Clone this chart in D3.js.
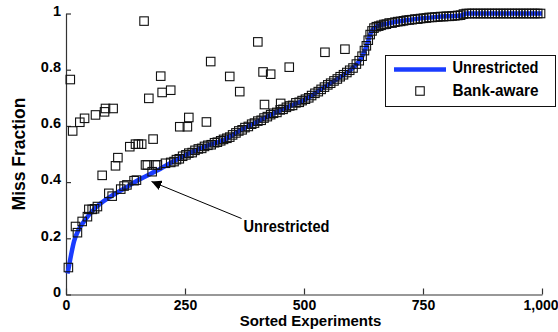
<!DOCTYPE html>
<html>
<head>
<meta charset="utf-8">
<script src="https://cdn.jsdelivr.net/npm/d3@7"></script>
<style>
  html, body { margin: 0; padding: 0; background: #fff; }
  svg text { font-family: "Liberation Sans", Arial, sans-serif; font-weight: bold; fill: #000; }
</style>
</head>
<body>
<div id="chart"></div>
<script>
// Unrestricted (sorted miss fraction per experiment)
const unrX = [3, 5, 10, 17, 25, 40, 60, 95, 125, 155, 190, 227, 262, 297, 332, 367, 400, 437, 470, 507,
  540, 577, 605, 622, 633, 640, 650, 675, 724, 780, 830, 842, 1000];
const unrY = [0.075, 0.09, 0.135, 0.19, 0.225, 0.265, 0.305, 0.35, 0.38, 0.41, 0.44, 0.475, 0.505, 0.53, 0.55, 0.585, 0.613, 0.645, 0.67, 0.698,
  0.735, 0.775, 0.81, 0.846, 0.893, 0.929, 0.952, 0.964, 0.978, 0.988, 0.993, 1.0, 1.0];

// Bank-aware
const bankX = [5, 20, 24, 34, 45, 48, 55, 60, 66, 90, 97, 115, 122, 128, 143, 148, 181, 209, 220, 227,
  232, 238, 245, 252, 258, 265, 271, 278, 285, 291, 298, 305, 312, 318, 325, 331, 338, 344, 350, 357,
  363, 370, 376, 383, 390, 396, 403, 410, 416, 423, 430, 436, 443, 450, 456, 463, 470, 476, 483, 490,
  496, 503, 510, 516, 523, 530, 536, 543, 550, 556, 563, 570, 576, 583, 590, 596, 603, 610, 616, 622,
  627, 631, 635, 639, 643, 647, 652, 657, 662, 668, 673, 679, 685, 691, 697, 703, 709, 715, 721, 727,
  733, 739, 745, 751, 757, 763, 769, 775, 781, 787, 793, 799, 805, 811, 817, 823, 829, 835, 841, 847,
  853, 859, 865, 871, 877, 883, 889, 895, 901, 907, 913, 919, 925, 931, 937, 943, 949, 955, 961, 967,
  973, 979, 985, 991, 997,
  9, 14, 29, 39, 62, 81, 83, 99, 76, 104, 109, 134, 146, 152, 159, 164, 167, 171, 174, 183,
  188, 192, 199, 202, 220, 239, 255, 258, 295, 304, 344, 365, 403, 414, 417, 430, 451, 469, 544, 586];
const bankY = [0.096, 0.242, 0.22, 0.26, 0.277, 0.303, 0.303, 0.305, 0.313, 0.36, 0.35, 0.375, 0.386, 0.39, 0.405, 0.407, 0.437, 0.467, 0.47, 0.473,
  0.48, 0.483, 0.492, 0.497, 0.503, 0.505, 0.513, 0.518, 0.52, 0.527, 0.531, 0.533, 0.54, 0.542, 0.547, 0.552, 0.556, 0.56, 0.568, 0.575,
  0.582, 0.586, 0.594, 0.598, 0.606, 0.61, 0.617, 0.62, 0.628, 0.633, 0.64, 0.645, 0.648, 0.657, 0.659, 0.666, 0.671, 0.673, 0.682, 0.684,
  0.69, 0.695, 0.70, 0.708, 0.716, 0.722, 0.73, 0.738, 0.746, 0.752, 0.76, 0.767, 0.775, 0.782, 0.79, 0.798, 0.806, 0.82, 0.832, 0.848,
  0.868, 0.885, 0.905, 0.925, 0.938, 0.948, 0.953, 0.955, 0.958, 0.961, 0.962, 0.966, 0.966, 0.969, 0.971, 0.972, 0.974, 0.976, 0.977, 0.978,
  0.98, 0.98, 0.982, 0.983, 0.984, 0.986, 0.986, 0.987, 0.988, 0.989, 0.989, 0.99, 0.99, 0.991, 0.992, 0.993, 0.994, 0.998, 1.0, 1.0,
  1.0, 1.0, 1.0, 1.0, 1.0, 1.0, 1.0, 1.0, 1.0, 1.0, 1.0, 1.0, 1.0, 1.0, 1.0, 1.0, 1.0, 1.0, 1.0, 1.0,
  1.0, 1.0, 1.0, 1.0, 1.0,
  0.765, 0.582, 0.613, 0.627, 0.639, 0.65, 0.662, 0.662, 0.424, 0.458, 0.487, 0.526, 0.535, 0.535, 0.535, 0.973, 0.461, 0.461, 0.698, 0.553,
  0.461, 0.461, 0.777, 0.719, 0.727, 0.597, 0.597, 0.63, 0.614, 0.829, 0.776, 0.722, 0.899, 0.792, 0.676, 0.784, 0.68, 0.809, 0.862, 0.873];

const xTicks = [0, 250, 500, 750, 1000];
const yTicks = [0, 0.2, 0.4, 0.6, 0.8, 1];
const yTickLabels = ["0", "0.2", "0.4", "0.6", "0.8", "1"];

const W = 558, H = 332;
const svg = d3.select("#chart").append("svg")
    .attr("width", W)
    .attr("height", H);

const x = d3.scaleLinear().domain([0, 1000]).range([66, 542]);
const y = d3.scaleLinear().domain([0, 1]).range([294.5, 13.5]);

// axes
const xAxis = d3.axisBottom(x).tickValues(xTicks).tickSizeInner(-6).tickSizeOuter(0).tickPadding(4);
const yAxis = d3.axisLeft(y).tickValues(yTicks).tickFormat((d, i) => yTickLabels[i])
    .tickSizeInner(-5).tickSizeOuter(0).tickPadding(5);

const gx = svg.append("g").attr("transform", `translate(0,${y(0)})`).call(xAxis);
gx.selectAll("text").attr("font-size", 14).attr("dy", "0.8em");
gx.selectAll(".tick").filter((d) => d === 1000).select("text").attr("dx", -1.5);
const gy = svg.append("g").attr("transform", `translate(${x(0)},0)`).call(yAxis);
gy.selectAll("text").attr("font-size", 14.5).attr("dy", "0.12em");
svg.selectAll(".domain, .tick line").attr("stroke", "#333").attr("stroke-width", 1.2);
svg.selectAll(".tick text").attr("font-family", null).style("fill", "#000");

// unrestricted line
const line = d3.line()
    .x((d, i) => x(unrX[i]))
    .y((d, i) => y(unrY[i]))
    .curve(d3.curveMonotoneX);
svg.append("path")
    .attr("d", line(unrX))
    .attr("fill", "none")
    .attr("stroke", "#1a3cff")
    .attr("stroke-width", 4.5);

// bank-aware squares
const S = 8.5;
svg.append("g").selectAll("rect")
    .data(bankX)
    .join("rect")
    .attr("x", (d) => x(d) - S / 2)
    .attr("y", (d, i) => y(bankY[i]) - S / 2)
    .attr("width", S)
    .attr("height", S)
    .attr("fill", "none")
    .attr("stroke", "#111")
    .attr("stroke-width", 1.1);

// axis titles
svg.append("text")
    .attr("x", 310.5).attr("y", 326)
    .attr("text-anchor", "middle")
    .attr("font-size", 15)
    .text("Sorted Experiments");
svg.append("text")
    .attr("transform", "translate(25,154) rotate(-90)")
    .attr("text-anchor", "middle")
    .attr("font-size", 17.5)
    .text("Miss Fraction");

// annotation
svg.append("defs").append("marker")
    .attr("id", "arrow")
    .attr("viewBox", "0 0 10 10")
    .attr("refX", 10).attr("refY", 5)
    .attr("markerWidth", 10).attr("markerHeight", 10)
    .attr("markerUnits", "userSpaceOnUse")
    .attr("orient", "auto")
    .append("path")
    .attr("d", "M0,0 L10,5 L0,10 Z")
    .attr("fill", "#000");
svg.append("line")
    .attr("x1", 241.5).attr("y1", 218.5)
    .attr("x2", 151.5).attr("y2", 181.5)
    .attr("stroke", "#000")
    .attr("stroke-width", 1)
    .attr("marker-end", "url(#arrow)");
svg.append("text")
    .attr("x", 243.5).attr("y", 231.5)
    .attr("font-size", 16)
    .attr("textLength", 86)
    .attr("lengthAdjust", "spacingAndGlyphs")
    .text("Unrestricted");

// legend
const lg = svg.append("g");
lg.append("rect")
    .attr("x", 385.5).attr("y", 55.5)
    .attr("width", 170).attr("height", 51)
    .attr("fill", "#fff")
    .attr("stroke", "#111")
    .attr("stroke-width", 1);
lg.append("line")
    .attr("x1", 394).attr("x2", 446)
    .attr("y1", 69.5).attr("y2", 69.5)
    .attr("stroke", "#1a3cff")
    .attr("stroke-width", 4.5);
lg.append("rect")
    .attr("x", 420 - S / 2).attr("y", 91 - S / 2)
    .attr("width", S).attr("height", S)
    .attr("fill", "none")
    .attr("stroke", "#111")
    .attr("stroke-width", 1.1);
lg.append("text")
    .attr("x", 452.5).attr("y", 72.5)
    .attr("font-size", 16)
    .attr("textLength", 86)
    .attr("lengthAdjust", "spacingAndGlyphs")
    .text("Unrestricted");
lg.append("text")
    .attr("x", 452.5).attr("y", 95.5)
    .attr("font-size", 16)
    .attr("textLength", 86)
    .attr("lengthAdjust", "spacingAndGlyphs")
    .text("Bank-aware");
</script>
</body>
</html>
